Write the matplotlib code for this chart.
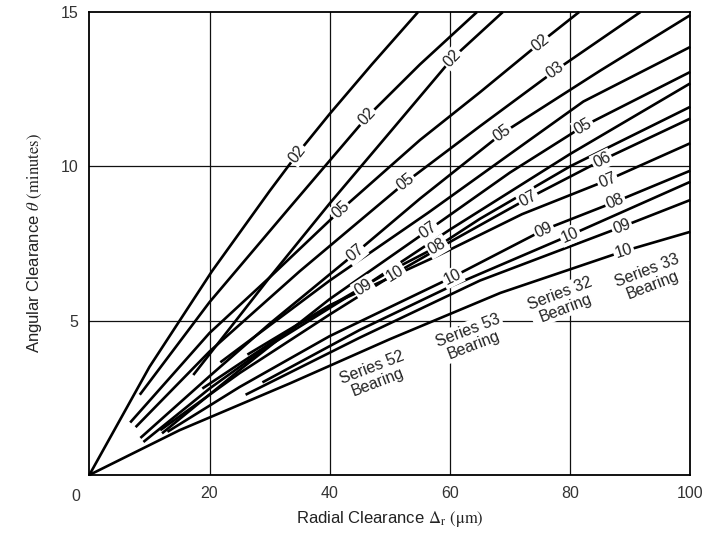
import numpy as np
import matplotlib.pyplot as plt

plt.rcParams['font.family'] = ['Liberation Sans', 'DejaVu Sans']
plt.rcParams['mathtext.fontset'] = 'stix'

# curve points (radial clearance um, angular clearance min)
curve_x = [
    [0, 10, 20.4, 30, 35, 40, 47, 54.7],
    [8.4, 20, 33.4, 46.2, 55, 64.5],
    [17.3, 30, 40, 50, 60.4, 68.8],
    [6.8, 20, 30, 41.8, 55, 65, 75, 81.5],
    [7.7, 20, 35, 52.6, 65, 77.5, 91.7],
    [8.5, 20, 30, 44.3, 55, 68.7, 85, 100],
    [21.8, 40, 56.4, 70, 82.2, 100],
    [12.1, 25, 40, 56.4, 70, 82.2, 100],
    [9.0, 20, 30, 45.6, 60, 80, 100],
    [18.8, 35, 50, 57.9, 65, 80, 100],
    [11.8, 25, 40, 50.9, 60, 73, 85.3, 100],
    [26.3, 40, 57.9, 72, 86.2, 100],
    [13.0, 25, 40, 60.4, 75.6, 87.5, 100],
    [28.8, 45, 60, 80, 100],
    [26.0, 45, 65, 88.6, 100],
    [0, 15, 33.4, 50, 68.4, 88.9, 100],
]
curve_y = [
    [0, 3.5, 6.6, 9.2, 10.5, 11.7, 13.3, 15.0],
    [2.6, 5.6, 8.68, 11.6, 13.3, 15.0],
    [3.24, 6.4, 8.8, 11.1, 13.5, 15.0],
    [1.7, 4.6, 6.4, 8.58, 10.85, 12.4, 14.0, 15.0],
    [1.55, 4.0, 6.6, 9.48, 11.3, 13.1, 15.0],
    [1.2, 3.2, 4.9, 7.19, 8.95, 11.07, 13.1, 14.9],
    [3.65, 6.3, 8.5, 10.4, 12.1, 13.87],
    [1.35, 3.4, 5.7, 7.93, 9.8, 11.3, 13.06],
    [1.07, 2.8, 4.2, 6.09, 7.95, 10.4, 12.69],
    [2.8, 4.9, 6.6, 7.4, 8.3, 10.0, 11.93],
    [1.45, 3.3, 5.2, 6.53, 7.55, 8.96, 10.2, 11.55],
    [3.9, 5.5, 7.1, 8.45, 9.55, 10.75],
    [1.4, 2.85, 4.5, 6.41, 7.94, 8.85, 9.86],
    [3.0, 4.7, 6.1, 7.77, 9.5],
    [2.6, 4.45, 6.3, 8.04, 8.91],
    [0, 1.45, 2.97, 4.4, 5.9, 7.25, 7.88],
]
# bore number labels sitting on each curve: (text, x position)
curve_labels = [
    [("02", 34.6)],
    [("02", 46.2)],
    [("02", 60.4)],
    [("05", 41.8), ("02", 75.0)],
    [("05", 52.6), ("03", 77.5)],
    [("07", 44.3), ("05", 68.7)],
    [],
    [("07", 56.4), ("05", 82.2)],
    [("09", 45.6)],
    [("08", 57.9)],
    [("10", 50.9), ("07", 73.0), ("06", 85.3)],
    [("07", 86.2)],
    [("10", 60.4), ("09", 75.6), ("08", 87.5)],
    [("10", 80.0)],
    [("09", 88.6)],
    [("10", 88.9)],
]

series_names = ["Series 52\nBearing", "Series 53\nBearing", "Series 32\nBearing", "Series 33\nBearing"]
series_x = [47.5, 63.5, 78.8, 93.3]
series_y = [3.25, 4.45, 5.65, 6.4]

fig = plt.figure(figsize=(7.1, 5.34), dpi=100)
ax = fig.add_axes([0.1258, 0.1105, 0.8465, 0.867])
ax.set_xlim(0, 100)
ax.set_ylim(0, 15)

for xv in [20, 40, 60, 80]:
    ax.axvline(xv, color='#111111', lw=0.9, zorder=1)
for yv in [5, 10]:
    ax.axhline(yv, color='#111111', lw=0.9, zorder=1)

fig.canvas.draw()
for xs, ys, labs in zip(curve_x, curve_y, curve_labels):
    ax.plot(xs, ys, color='black', lw=1.9, solid_capstyle='butt', zorder=5, clip_on=False)
    for lab, xl in labs:
        yl = np.interp(xl, xs, ys)
        p1 = ax.transData.transform((xl - 2, np.interp(xl - 2, xs, ys)))
        p2 = ax.transData.transform((xl + 2, np.interp(xl + 2, xs, ys)))
        ang = np.degrees(np.arctan2(p2[1] - p1[1], p2[0] - p1[0]))
        ax.text(xl, yl, lab, rotation=ang, ha='center', va='center', fontsize=11.5,
                rotation_mode='anchor', zorder=6, color='#222222',
                bbox=dict(boxstyle='square,pad=0.1', fc='white', ec='none'))

for txt, x, y in zip(series_names, series_x, series_y):
    ax.text(x, y, txt, rotation=21, ha='center', va='center', fontsize=11.5,
            linespacing=1.05, rotation_mode='anchor', zorder=4, color='#222222',
            clip_on=False, bbox=dict(boxstyle='square,pad=0.1', fc='white', ec='none'))

for s in ax.spines.values():
    s.set_linewidth(1.3)
    s.set_zorder(3)
ax.set_xticks([20, 40, 60, 80, 100])
ax.set_yticks([5, 10, 15])
ax.tick_params(length=0, labelsize=11.5, pad=8, colors='#333333')
ax.text(-2.2, -0.45, "0", ha='center', va='top', fontsize=11.5, color='#333333')

ax.set_xlabel(r"Radial Clearance $\mathit{\Delta}_{\mathrm{r}}$ $\mathrm{(\mu m)}$",
              fontsize=12, labelpad=6, color='#222222')
ax.set_ylabel(r"Angular Clearance $\mathit{\theta}$ $\mathrm{(minutes)}$",
              fontsize=12, labelpad=12, color='#222222')

fig.savefig("out.png", dpi=100)
